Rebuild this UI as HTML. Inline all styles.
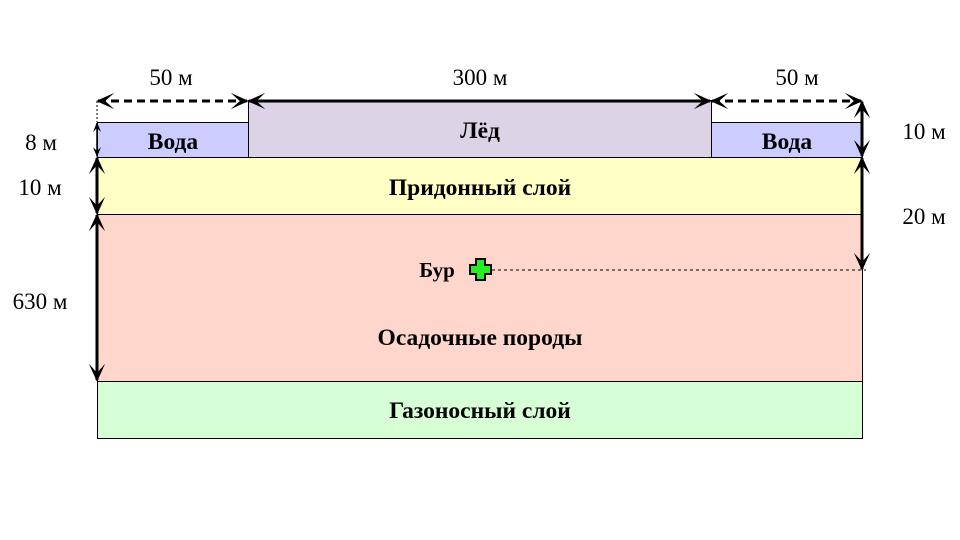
<!DOCTYPE html>
<html><head><meta charset="utf-8"><style>body{margin:0;background:#fff}svg{display:block}</style></head>
<body>
<svg width="960" height="540" viewBox="0 0 960 540" xmlns="http://www.w3.org/2000/svg" font-family="Liberation Serif, serif">
<defs>
<marker id="a" viewBox="0 0 10 10" refX="9" refY="5" markerWidth="10" markerHeight="10" orient="auto-start-reverse" markerUnits="userSpaceOnUse">
<path d="M0,1 L10,5 L0,9 L4,5 Z" fill="#000"/></marker>
<marker id="b" viewBox="0 0 10 10" refX="9" refY="5" markerWidth="18" markerHeight="18" orient="auto-start-reverse" markerUnits="userSpaceOnUse">
<path d="M0,0.5 L10,5 L0,9.5 L5,5 Z" fill="#000"/></marker>
</defs>
<rect x="97.5" y="122.5" width="151" height="35" fill="#ccccff" stroke="#000"/>
<rect x="711.5" y="122.5" width="151" height="35" fill="#ccccff" stroke="#000"/>
<rect x="248.5" y="100.5" width="463" height="57" fill="#dcd3e6" stroke="#000"/>
<rect x="97.5" y="157.5" width="765" height="57" fill="#ffffc6" stroke="#000"/>
<rect x="97.5" y="214.5" width="765" height="167" fill="#ffd6cc" stroke="#000"/>
<rect x="97.5" y="381.5" width="765" height="57" fill="#d6ffd6" stroke="#000"/>
<g font-weight="bold" font-size="23.5" text-anchor="middle">
<text x="173" y="149">Вода</text><text x="787" y="149">Вода</text>
<text x="480" y="138">Лёд</text>
<text x="480" y="195">Придонный слой</text>
<text x="480" y="345">Осадочные породы</text>
<text x="480" y="418">Газоносный слой</text>
<text x="437" y="277" font-size="21">Бур</text>
</g>
<g font-size="23" text-anchor="middle">
<text x="171" y="85">50 м</text><text x="480" y="85">300 м</text><text x="797" y="85">50 м</text>
<text x="41" y="150">8 м</text><text x="40" y="195">10 м</text><text x="40" y="309">630 м</text>
<text x="924" y="139">10 м</text><text x="924" y="224">20 м</text>
</g>
<g stroke="#000" fill="none">
<line x1="97" y1="101" x2="97" y2="122" stroke-dasharray="2,2"/>
<line x1="98" y1="101" x2="247" y2="101" stroke-width="3" stroke-dasharray="8,5" marker-start="url(#b)" marker-end="url(#b)"/>
<line x1="249" y1="101" x2="710" y2="101" stroke-width="3" marker-start="url(#b)" marker-end="url(#b)"/>
<line x1="712" y1="101" x2="861" y2="101" stroke-width="3" stroke-dasharray="8,5" marker-start="url(#b)" marker-end="url(#b)"/>
<line x1="97" y1="123" x2="97" y2="156" stroke-width="1.5" marker-start="url(#a)" marker-end="url(#a)"/>
<line x1="97" y1="158" x2="97" y2="213" stroke-width="3" marker-start="url(#b)" marker-end="url(#b)"/>
<line x1="97" y1="215" x2="97" y2="380" stroke-width="3" marker-start="url(#b)" marker-end="url(#b)"/>
<line x1="862" y1="102" x2="862" y2="156" stroke-width="3" marker-start="url(#b)" marker-end="url(#b)"/>
<line x1="862" y1="158" x2="862" y2="269" stroke-width="3" marker-start="url(#b)" marker-end="url(#b)"/>
<line x1="492" y1="270" x2="866" y2="270" stroke-dasharray="3,3"/>
</g>
<path d="M476,259 h9 v6 h6 v9 h-6 v6 h-9 v-6 h-6 v-9 h6 z" fill="#22ee22" stroke="#000" stroke-width="2"/>
</svg>
</body></html>
